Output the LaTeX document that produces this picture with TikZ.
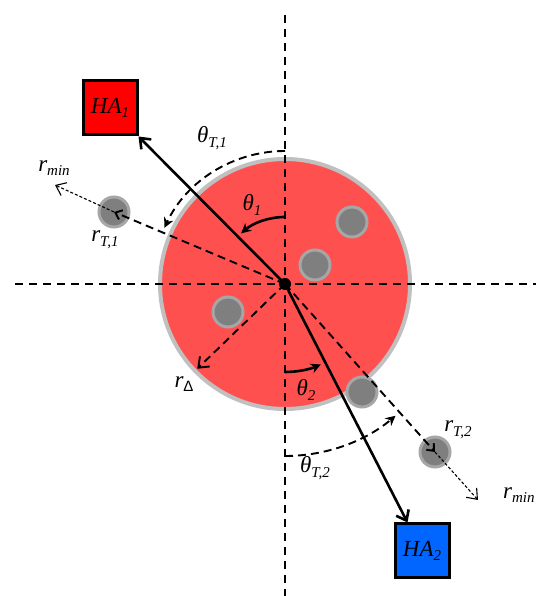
\documentclass[tikz,border=0pt]{standalone}
\usepackage{fontspec}
\setmainfont{Liberation Serif}
\newfontfamily\sansgreek{Liberation Sans}
\usetikzlibrary{arrows.meta,calc}
\definecolor{diskred}{RGB}{255,80,80}
\definecolor{diskring}{RGB}{192,192,192}
\definecolor{ballgray}{RGB}{127,127,127}
\definecolor{ballring}{RGB}{166,166,166}
\definecolor{hared}{RGB}{255,0,0}
\definecolor{hablue}{RGB}{0,102,255}
\newcommand{\sbx}[1]{\raisebox{-0.45ex}{\fontsize{15}{15}\selectfont #1}}
\begin{document}
\begin{tikzpicture}[x=1pt,y=1pt,
  axisline/.style={black, line width=1.9pt, dash pattern=on 8pt off 6pt},
  dline/.style={black, line width=1.9pt, dash pattern=on 8pt off 5pt},
  dotline/.style={black, line width=1.1pt, dash pattern=on 3pt off 2pt},
  solidline/.style={black, line width=2.6pt},
  barb/.style={-{Straight Barb[length=9pt,width=14pt]}},
  smallbarb/.style={-{Straight Barb[length=6pt,width=10pt]}},
  filltip/.style={-{Stealth[length=10pt,width=10pt]}},
  ball/.style={circle, fill=ballgray, draw=ballring, line width=3pt, minimum size=30pt, inner sep=0pt},
  habox/.style={draw=black, line width=3pt, minimum size=54pt, inner sep=0pt, font=\fontsize{23}{23}\selectfont\itshape},
  lab/.style={font=\fontsize{23}{23}\selectfont\itshape, inner sep=0pt}]
\useasboundingbox (0,0) rectangle (536,596);
\coordinate (C) at (285,312);
% disk
\node[circle, fill=diskred, draw=diskring, line width=4pt, minimum size=250pt, inner sep=0pt] (disk) at (C) {};
% axes
\coordinate (vt) at (285,581);
\coordinate (vb) at (285,0);
\coordinate (hl) at (15,312);
\coordinate (hr) at (536,312);
\draw[axisline] (vt) -- (vb);
\draw[axisline] (hl) -- (hr);
% balls
\node[ball] (b1) at (352,374) {};
\node[ball] (b2) at (315,331) {};
\node[ball] (b3) at (228,284) {};
\node[ball] (b4) at (362,204) {};
\node[ball] (bt1) at (114,384) {};
\node[ball] (bt2) at (435,144) {};
% boxes
\node[habox, fill=hared] (ha1) at (110,488) {HA\sbx{1}};
\node[habox, fill=hablue] (ha2) at (422,45) {HA\sbx{2}};
% free ends
\coordinate (rmin1) at (55,411);
\coordinate (rmin2) at (478,96);
\coordinate (rd) at ($(C)+(224:122)$);
% dashed radial lines
\draw[dline, smallbarb] (C) -- (bt1.center);
\draw[dotline, barb] (bt1.center) -- (rmin1);
\draw[dline, smallbarb] (C) -- (bt2.center);
\draw[dotline, barb] (bt2.center) -- (rmin2);
\draw[dline, barb] (C) -- (rd);
% arcs
\draw[dline, filltip] ($(C)+(90:133)$) arc[start angle=90, end angle=155, radius=133];
\draw[solidline, filltip] ($(C)+(90:67)$) arc[start angle=90, end angle=131, radius=67];
\draw[solidline, filltip] ($(C)+(-90:88)$) arc[start angle=-90, end angle=-66, radius=88];
\draw[dline, filltip] ($(C)+(-90:172)$) arc[start angle=-90, end angle=-50, radius=172];
% arrows to HAs
\draw[solidline, barb] (C) -- (ha1.south east);
\draw[solidline, barb] (C) -- ([xshift=14pt]ha2.north west);
% center dot
\node[circle, fill=black, minimum size=12pt, inner sep=0pt] (cdot) at (C) {};
% labels
\node[lab] (tT1) at (212,458) {θ\sbx{T,1}};
\node[lab] (t1) at (252,391) {θ\sbx{1}};
\node[lab] (rm1) at (54,428) {r\sbx{min}};
\node[lab] (rT1) at (105,356) {r\sbx{T,1}};
\node[lab] (rD) at (184,212) {r\sbx{\sansgreek\upshape Δ}};
\node[lab] (t2) at (306,206) {θ\sbx{2}};
\node[lab] (tT2) at (315,128) {θ\sbx{T,2}};
\node[lab] (rT2) at (458,166) {r\sbx{T,2}};
\node[lab, anchor=west] (rm2) at (503,101) {r\sbx{min}};
\end{tikzpicture}
\end{document}
